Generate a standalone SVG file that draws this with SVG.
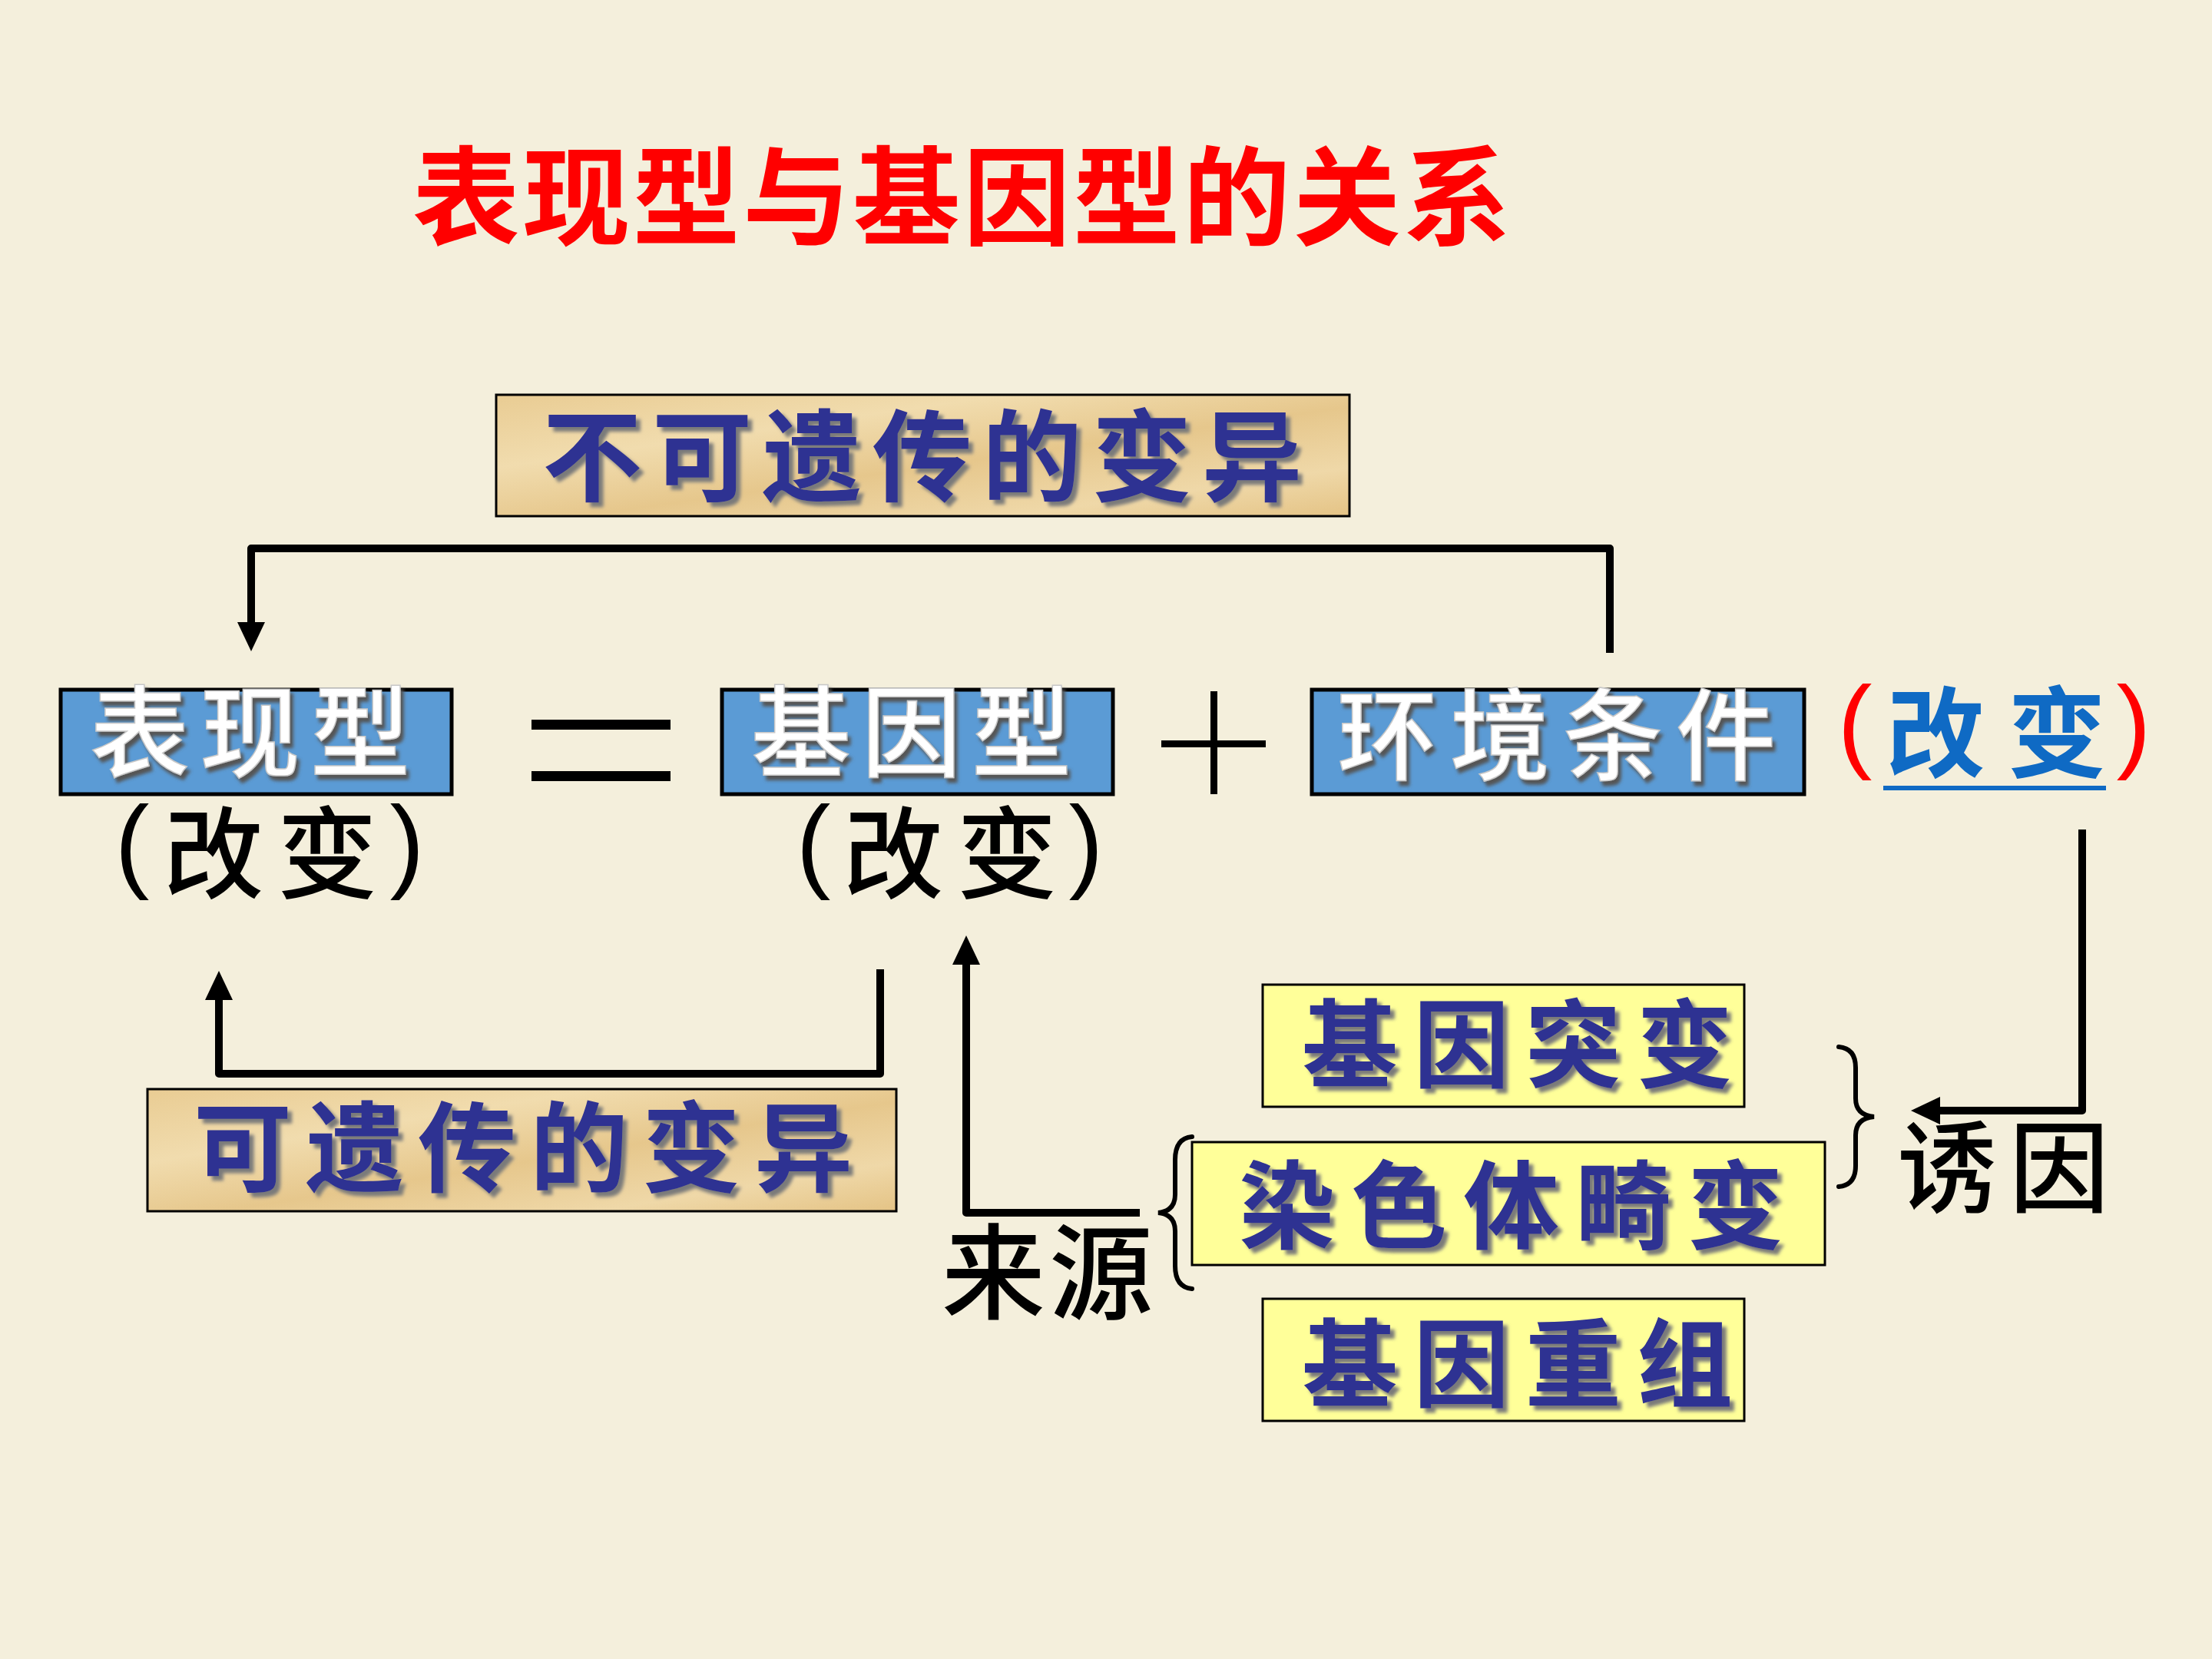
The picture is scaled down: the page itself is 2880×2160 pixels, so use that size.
<svg xmlns="http://www.w3.org/2000/svg" width="2880" height="2160" viewBox="0 0 2880 2160">
<style>
.cjk{font-family:"Noto Sans CJK SC","Noto Sans CJK JP",sans-serif}
.title{fill:#ff0000;font-size:140px;font-weight:700}
.blue{fill:#2e3192;font-weight:700;filter:url(#bsh)}
.white{fill:#ffffff;font-weight:500;stroke:#c8c8c8;stroke-width:1.5;filter:url(#wsh)}
.black{fill:#000000;font-weight:500}
.paren{font-family:"Liberation Sans",sans-serif;font-size:135px}
.bluebox{fill:#5b9bd5;stroke:#000;stroke-width:5}
.yellowbox{fill:#ffff99;stroke:#000;stroke-width:3}
.tanbox{fill:url(#parch);stroke:#000;stroke-width:3}
.line{fill:none;stroke:#000;stroke-width:10;stroke-linejoin:round}
.brace{fill:none;stroke:#000;stroke-width:6;stroke-linecap:round}
</style>
<defs>
<linearGradient id="parch" x1="0" y1="0" x2="1" y2="1">
<stop offset="0" stop-color="#e9cc93"/>
<stop offset="0.3" stop-color="#f1dcae"/>
<stop offset="0.55" stop-color="#e6c78c"/>
<stop offset="0.8" stop-color="#efd8a8"/>
<stop offset="1" stop-color="#e4c385"/>
</linearGradient>
<filter id="bsh" x="-5%" y="-10%" width="115%" height="130%">
<feDropShadow dx="6" dy="6" stdDeviation="2" flood-color="#7a7a7a" flood-opacity="1"/>
</filter>
<filter id="wsh" x="-5%" y="-10%" width="115%" height="130%">
<feDropShadow dx="4" dy="6" stdDeviation="2" flood-color="#555555" flood-opacity="1"/>
</filter>
<marker id="arr" markerUnits="userSpaceOnUse" markerWidth="40" markerHeight="40" viewBox="0 0 40 40" refX="2" refY="20" orient="auto">
<path d="M0,2 L38,20 L0,38 z" fill="#000"/>
</marker>
</defs>
<rect x="0" y="0" width="2880" height="2160" fill="#f4efdc"/>

<g id="title">
<text class="cjk title" x="537" y="308" textLength="1430" lengthAdjust="spacing">表现型与基因型的关系</text>
</g>

<g id="connectors">
<path class="line" d="M2096,850 V714 H327 V812" marker-end="url(#arr)"/>
<path class="line" d="M1146,1262 V1398 H285 V1300" marker-end="url(#arr)"/>
<path class="line" d="M1484,1579 H1258 V1254" marker-end="url(#arr)"/>
<path class="line" d="M2711,1080 V1446 H2524" marker-end="url(#arr)"/>
<path class="brace" d="M1552,1480 Q1530,1482 1530,1510 V1555 Q1530,1577 1508,1579 Q1530,1581 1530,1603 V1648 Q1530,1676 1552,1678"/>
<path class="brace" d="M2394,1363 Q2416,1365 2416,1390 V1430 Q2416,1452 2440,1454 Q2416,1456 2416,1478 V1518 Q2416,1543 2394,1545"/>
</g>

<g id="nonheritable">
<rect class="tanbox" x="646" y="514" width="1111" height="158"/>
<text class="cjk blue" font-size="130" x="706" y="642" textLength="989" lengthAdjust="spacing">不可遗传的变异</text>
</g>

<g id="phenotype">
<rect class="bluebox" x="79" y="898" width="509" height="136"/>
<text class="cjk white" font-size="130" x="117" y="1001" textLength="417" lengthAdjust="spacing">表现型</text>
</g>

<g id="equals">
<rect x="692" y="937" width="181" height="13" fill="#000"/>
<rect x="692" y="1004" width="181" height="13" fill="#000"/>
</g>

<g id="genotype">
<rect class="bluebox" x="940" y="898" width="509" height="136"/>
<text class="cjk white" font-size="130" x="978" y="1001" textLength="417" lengthAdjust="spacing">基因型</text>
</g>

<g id="plus">
<rect x="1512" y="964" width="136" height="9" fill="#000"/>
<rect x="1576" y="900" width="9" height="134" fill="#000"/>
</g>

<g id="environment">
<rect class="bluebox" x="1708" y="898" width="641" height="136"/>
<text class="cjk white" font-size="130" x="1741" y="1005" textLength="571" lengthAdjust="spacing">环境条件</text>
</g>

<g id="env-change">
<text class="paren" fill="#ff0000" font-size="130" x="2415" y="988" text-anchor="middle">(</text>
<text class="cjk" fill="#0f6ac4" font-weight="700" font-size="128" x="2456" y="1002" textLength="286" lengthAdjust="spacing">改变</text>
<rect x="2452" y="1023" width="290" height="6" fill="#0f6ac4"/>
<text class="paren" fill="#ff0000" font-size="130" x="2778" y="988" text-anchor="middle">)</text>
</g>

<g id="pheno-change">
<text class="paren black" x="172" y="1144" text-anchor="middle">(</text>
<text class="cjk black" font-size="130" x="213" y="1159" textLength="278" lengthAdjust="spacing">改变</text>
<text class="paren black" x="530" y="1144" text-anchor="middle">)</text>
</g>

<g id="geno-change">
<text class="paren black" x="1059" y="1144" text-anchor="middle">(</text>
<text class="cjk black" font-size="130" x="1098" y="1159" textLength="278" lengthAdjust="spacing">改变</text>
<text class="paren black" x="1414" y="1144" text-anchor="middle">)</text>
</g>

<g id="heritable">
<rect class="tanbox" x="192" y="1418" width="975" height="159"/>
<text class="cjk blue" font-size="128" x="252" y="1542" textLength="858" lengthAdjust="spacing">可遗传的变异</text>
</g>

<g id="gene-mutation">
<rect class="yellowbox" x="1644" y="1282" width="627" height="159"/>
<text class="cjk blue" font-size="125" x="1695" y="1406" textLength="561" lengthAdjust="spacing">基因突变</text>
</g>

<g id="chromosome-variation">
<rect class="yellowbox" x="1552" y="1487" width="824" height="160"/>
<text class="cjk blue" font-size="125" x="1613" y="1616" textLength="709" lengthAdjust="spacing">染色体畸变</text>
</g>

<g id="gene-recombination">
<rect class="yellowbox" x="1644" y="1691" width="627" height="159"/>
<text class="cjk blue" font-size="125" x="1695" y="1822" textLength="561" lengthAdjust="spacing">基因重组</text>
</g>

<g id="source">
<text class="cjk black" font-size="135" x="1226" y="1707" textLength="275" lengthAdjust="spacing">来源</text>
</g>

<g id="cause">
<text class="cjk black" font-size="130" x="2470" y="1568" textLength="276" lengthAdjust="spacing">诱因</text>
</g>
</svg>
